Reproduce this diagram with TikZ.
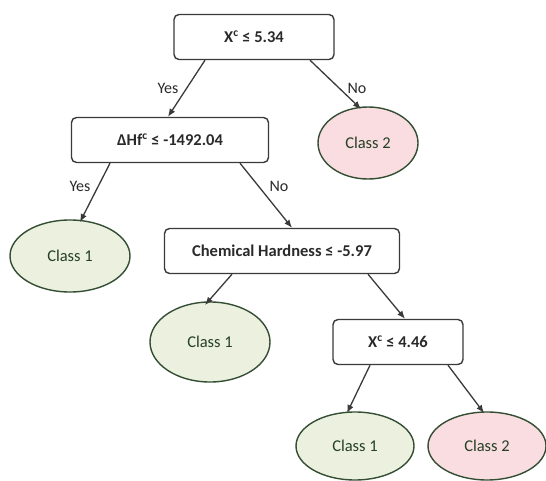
\documentclass[tikz,border=0pt]{standalone}
\usepackage{fontspec}
\setmainfont{Carlito}
\usetikzlibrary{arrows.meta,shapes.geometric}
\definecolor{leafgreen}{HTML}{EBF1DE}
\definecolor{leafpink}{HTML}{F9DDE0}
\definecolor{edgegray}{HTML}{3A3A3A}
\definecolor{textgray}{HTML}{2A2A2A}
\tikzset{
  test/.style={draw=edgegray, line width=1.4pt, rounded corners=5pt, fill=white,
    minimum height=45pt, text=textgray, font=\fontsize{16.5}{18}\selectfont\bfseries},
  leaf/.style={draw=edgegray!90!green, line width=1.4pt, ellipse, text=textgray!90!green,
    minimum width=120pt, minimum height=72pt, inner sep=0pt,
    font=\fontsize{16.5}{18}\selectfont},
  class1/.style={leaf, fill=leafgreen},
  class2/.style={leaf, fill=leafpink},
  branch/.style={draw=edgegray, line width=1.3pt, -{Latex[length=8pt,width=6.5pt]}},
  answer/.style={text=textgray, font=\fontsize{16}{18}\selectfont, inner sep=1pt}
}
\begin{document}
\begin{tikzpicture}[x=1pt,y=-1pt]
  \useasboundingbox (0,0) rectangle (546,481);
  % decision nodes
  \node[test, minimum width=160pt] (root) at (254,37) {X\textsuperscript{c} ≤ 5.34};
  \node[test, minimum width=197pt] (dhf) at (170,140) {ΔHf\textsuperscript{c} ≤ -1492.04};
  \node[test, minimum width=235pt] (hard) at (282,251) {Chemical Hardness ≤ -5.97};
  \node[test, minimum width=130pt] (xc) at (398,342) {X\textsuperscript{c} ≤ 4.46};
  % leaves
  \node[class2, minimum width=100pt, minimum height=72pt] (c2a) at (368,143) {Class 2};
  \node[class1] (c1a) at (70,256) {Class 1};
  \node[class1, minimum height=80pt] (c1b) at (210,342) {Class 1};
  \node[class1, minimum width=118pt, minimum height=68pt] (c1c) at (355,446) {Class 1};
  \node[class2, minimum width=118pt, minimum height=68pt] (c2b) at (487,446) {Class 2};
  % branches: start points on the lower edge of each test box
  \draw[branch] (root.south -| 205,0) -- (dhf.north -| 168,0);
  \draw[branch] (root.south -| 310,0) -- (361,109);
  \node[answer] (yes1) at (168,88) {Yes};
  \node[answer] (no1) at (357,88) {No};
  \draw[branch] (dhf.south -| 110,0) -- (80,222);
  \draw[branch] (dhf.south -| 240,0) -- (hard.north -| 292,0);
  \node[answer] (yes2) at (80,186) {Yes};
  \node[answer] (no2) at (279,186) {No};
  \draw[branch] (hard.south -| 232,0) -- (205,305);
  \draw[branch] (hard.south -| 368,0) -- (xc.north -| 405,0);
  \draw[branch] (xc.south -| 370,0) -- (347,413);
  \draw[branch] (xc.south -| 448,0) -- (484,413);
\end{tikzpicture}
\end{document}
